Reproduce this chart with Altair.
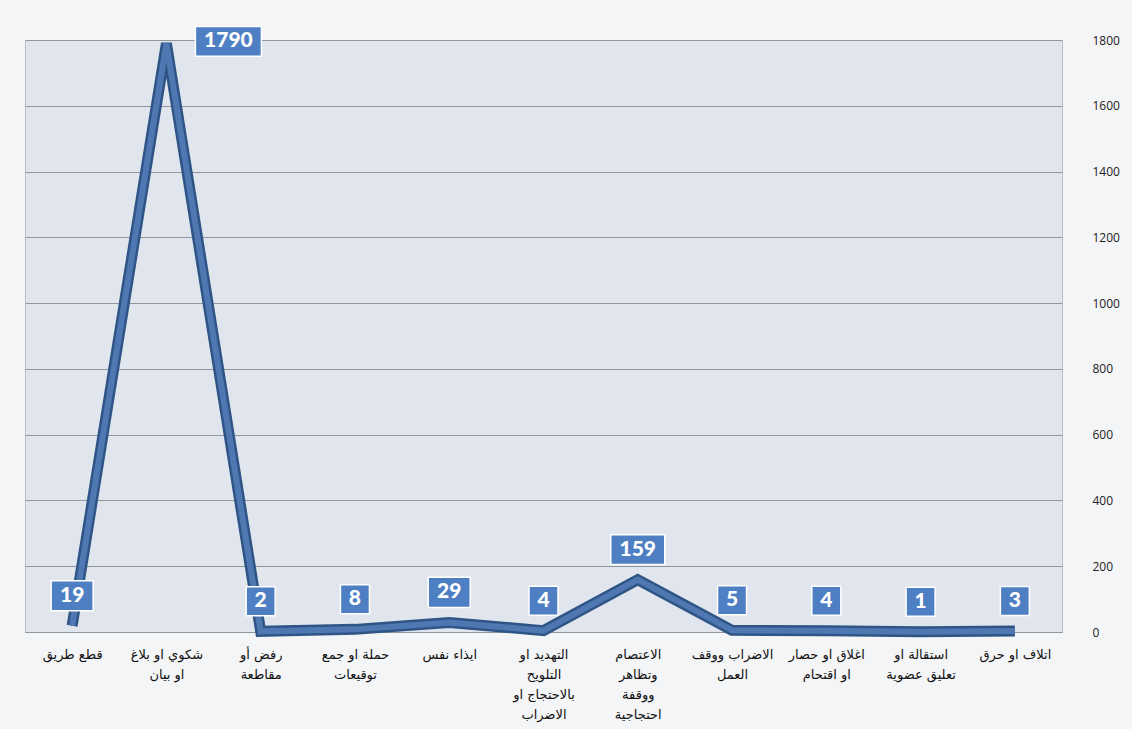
import altair as alt
import pandas as pd

categories = [
    "قطع طريق",
    "شكوي او بلاغ|او بيان",
    "رفض أو|مقاطعة",
    "حملة او جمع|توقيعات",
    "ايذاء نفس",
    "التهديد او|التلويح|بالاحتجاج او|الاضراب",
    "الاعتصام|وتظاهر|ووقفة|احتجاجية",
    "الاضراب ووقف|العمل",
    "اغلاق او حصار|او اقتحام",
    "استقالة او|تعليق عضوية",
    "اتلاف او حرق",
]
values = [19, 1790, 2, 8, 29, 4, 159, 5, 4, 1, 3]
y_ticks = [0, 200, 400, 600, 800, 1000, 1200, 1400, 1600, 1800]

df = pd.DataFrame({"cat": categories, "value": values})
df["order"] = range(len(df))

x_enc = alt.X(
    "cat:N",
    sort=categories,
    scale=alt.Scale(type="point", padding=0.5),
    axis=alt.Axis(
        title=None,
        labelAngle=0,
        labelExpr="split(datum.label, '|')",
        labelFontSize=13,
        labelFont="DejaVu Sans",
        labelColor="#111111",
        labelLineHeight=20,
        labelPadding=16,
        labelBaseline="top",
        ticks=False,
        domain=False,
        grid=False,
    ),
)
y_enc = alt.Y(
    "value:Q",
    scale=alt.Scale(domain=[0, 1800], nice=False),
    axis=alt.Axis(
        title=None,
        orient="right",
        values=y_ticks,
        format="d",
        labelFontSize=12,
        labelFont="Open Sans",
        labelColor="#222222",
        labelPadding=30,
        ticks=False,
        domain=False,
        gridColor="#8f969e",
        gridWidth=1,
    ),
)

base = alt.Chart(df)

line_shadow = base.mark_line(color="#2f5586", strokeWidth=11, strokeJoin="miter").encode(
    x=x_enc, y=y_enc, order="order:Q"
)
line = base.mark_line(color="#4f78b2", strokeWidth=6, strokeJoin="miter").encode(
    x=x_enc, y=y_enc, order="order:Q"
)

labels = base.transform_calculate(
    txt="toString(datum.value)",
    shp="datum.value >= 1000 ? 'M-1,-0.45H1V0.45H-1Z' : (datum.value >= 100 ? 'M-1,-0.55H1V0.55H-1Z' : (datum.value >= 10 ? 'M-1,-0.72H1V0.72H-1Z' : 'M-1,-1H1V1H-1Z'))",
    sz="datum.value >= 1000 ? 4356 : (datum.value >= 100 ? 2916 : (datum.value >= 10 ? 1764 : 841))",
)
peak = labels.transform_filter("datum.value >= 1000")
rest = labels.transform_filter("datum.value < 1000")

box_color = "#4e7fc2"


def box_layer(src, xo, yo):
    return src.mark_point(
        filled=True, opacity=1, color=box_color, stroke="#ffffff", strokeWidth=1.5,
        xOffset=xo, yOffset=yo,
    ).encode(
        x=x_enc,
        y=y_enc,
        shape=alt.Shape("shp:N", scale=None),
        size=alt.Size("sz:Q", scale=None),
    )


def text_layer(src, xo, yo):
    return src.mark_text(
        color="white", font="Lato", fontWeight=900, fontSize=21, baseline="middle", align="center",
        xOffset=xo, yOffset=yo,
    ).encode(x=x_enc, y=y_enc, text="txt:N")


chart = (
    alt.layer(
        line_shadow, line,
        box_layer(peak, 62, -2), text_layer(peak, 62, -2),
        box_layer(rest, 0, -30), text_layer(rest, 0, -30),
    )
    .properties(
        width=1132,
        height=729,
        autosize=alt.AutoSizeParams(type="fit", contains="padding"),
        padding={"left": 25, "top": 22, "right": 12, "bottom": 8},
        background="#f4f5f7",
    )
    .configure_view(fill="#e1e6ee", stroke="#b8bec6", strokeWidth=1)
)

chart.save("out.html", embed_options={"renderer": "svg", "actions": False})
